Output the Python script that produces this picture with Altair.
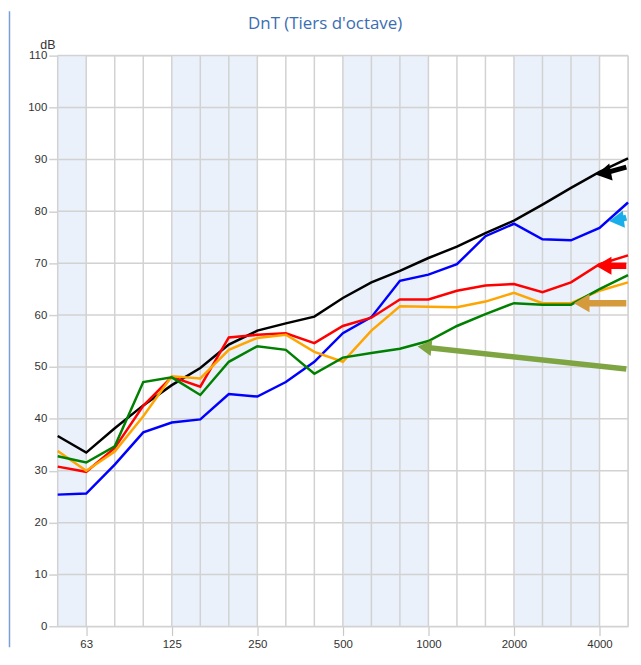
import altair as alt
import pandas as pd

# Third-octave bands (Hz)
bands = ["50", "63", "80", "100", "125", "160", "200", "250", "315", "400", "500",
         "630", "800", "1000", "1250", "1600", "2000", "2500", "3150", "4000", "5000"]
tick_labels = ["63", "125", "250", "500", "1000", "2000", "4000"]
db_ticks = [0, 10, 20, 30, 40, 50, 60, 70, 80, 90, 100, 110]
chart_title = "DnT (Tiers d'octave)"

# DnT values (dB) per series
black = [36.7, 33.5, 38.2, 42.6, 46.5, 49.8, 54.3, 57.0, 58.4, 59.7, 63.3,
         66.3, 68.5, 71.0, 73.2, 75.8, 78.2, 81.3, 84.5, 87.6, 90.2]
blue = [25.4, 25.6, 31.2, 37.4, 39.3, 39.9, 44.8, 44.3, 47.1, 51.0, 56.5,
        59.6, 66.6, 67.8, 69.8, 75.2, 77.6, 74.6, 74.4, 76.8, 81.7]
red = [30.8, 29.8, 34.4, 42.5, 48.1, 46.2, 55.7, 56.2, 56.5, 54.6, 57.9,
       59.5, 63.0, 63.0, 64.7, 65.7, 66.0, 64.4, 66.3, 69.8, 71.5]
orange = [33.8, 30.0, 33.7, 40.5, 48.2, 47.8, 53.3, 55.6, 56.2, 52.9, 51.0,
          57.0, 61.7, 61.6, 61.5, 62.6, 64.3, 62.3, 62.3, 64.7, 66.3]
green = [32.8, 31.6, 34.7, 47.1, 48.0, 44.6, 51.0, 54.0, 53.3, 48.7, 51.8,
         52.7, 53.5, 55.0, 57.9, 60.2, 62.3, 62.0, 62.0, 65.0, 67.7]

series_names = ["noir", "bleu", "rouge", "orange", "vert"]
series_values = [black, blue, red, orange, green]
series_colors = ["#000000", "#0000ff", "#ff0000", "#ffa500", "#008000"]

# shaded octave columns (from band, to band)
shade_from = ["50", "125", "500", "2000"]
shade_to = ["63", "250", "1000", "4000"]

# annotation arrows (band position index, dB)
arrow_colors = ["#000000", "#19aeea", "#ff0000", "#d59a3b", "#7fa543"]
arrow_tip_x = [18.90, 19.35, 18.90, 18.13, 12.62]
arrow_tip_y = [87.3, 78.3, 69.5, 62.3, 53.8]
arrow_tail_x = [19.94, 19.94, 19.94, 19.94, 19.94]
arrow_tail_y = [88.5, 78.8, 69.5, 62.3, 49.6]
arrow_angle = [349, 353, 0, 0, 6]
arrow_width = [5, 6, 6.5, 6.5, 5.5]
arrow_head = [300, 300, 330, 330, 260]

W, H = 573.7, 574.2
xs = alt.Scale(domain=[0, len(bands) - 1], nice=False, zero=False)
ys = alt.Scale(domain=[0, 110], nice=False, zero=False)

label_arr = "[" + ",".join("'" + b + "'" for b in bands) + "]"

rows = []
for name, vals in zip(series_names, series_values):
    for i, v in enumerate(vals):
        rows.append({"serie": name, "i": i, "db": v})
df = pd.DataFrame(rows)

shade_df = pd.DataFrame({"x0": [bands.index(a) for a in shade_from],
                         "x1": [bands.index(b) for b in shade_to]})
vgrid_df = pd.DataFrame({"i": list(range(len(bands)))})
hgrid_df = pd.DataFrame({"db": db_ticks})
arrow_df = pd.DataFrame({"c": arrow_colors, "tx": arrow_tip_x, "ty": arrow_tip_y,
                         "ex": arrow_tail_x, "ey": arrow_tail_y, "a": arrow_angle,
                         "w": arrow_width, "s": arrow_head})
title_df = pd.DataFrame({"t": [chart_title]})

grid_col = "#d2d2d2"

shade = alt.Chart(shade_df).mark_rect(color="#eaf1fa").encode(
    x=alt.X("x0:Q", scale=xs, axis=alt.Axis(
        values=[bands.index(t) for t in tick_labels],
        labelExpr=label_arr + "[datum.value]",
        title=None, grid=False, domain=False, tickSize=9, tickColor="#c8c8c8",
        tickWidth=1.2, labelPadding=3, labelFontSize=11.5, labelColor="#333333",
        labelFont="Liberation Sans", labelFlush=False)),
    x2="x1:Q",
    y=alt.Y("y0:Q", scale=ys, axis=alt.Axis(
        values=db_ticks, title="dB", titleAngle=0, titleX=-18, titleY=-7.5,
        titleAlign="left", titleBaseline="alphabetic", titleFontWeight="normal",
        titleFontSize=12.5, titleColor="#333333", titleFont="Liberation Sans",
        grid=False, domain=False, tickSize=9, tickColor=grid_col, tickWidth=1.5,
        labelPadding=2, labelFontSize=11.5, labelColor="#333333",
        labelFont="Liberation Sans")),
    y2="y1:Q",
).transform_calculate(y0="0", y1="110")

vgrid = alt.Chart(vgrid_df).mark_rule(color=grid_col, strokeWidth=1.5).encode(
    x=alt.X("i:Q", scale=xs), y=alt.datum(0), y2=alt.datum(110))
hgrid = alt.Chart(hgrid_df).mark_rule(color=grid_col, strokeWidth=1.5).encode(
    y=alt.Y("db:Q", scale=ys), x=alt.datum(0), x2=alt.datum(len(bands) - 1))

lines = []
for name, col in zip(series_names, series_colors):
    lines.append(
        alt.Chart(df[df.serie == name]).mark_line(color=col, strokeWidth=2.5).encode(
            x=alt.X("i:Q", scale=xs), y=alt.Y("db:Q", scale=ys)))

shafts = alt.Chart(arrow_df).mark_rule(xOffset=7).encode(
    x=alt.X("tx:Q", scale=xs), y=alt.Y("ty:Q", scale=ys),
    x2="ex:Q", y2="ey:Q",
    color=alt.Color("c:N", scale=None), strokeWidth=alt.StrokeWidth("w:Q", scale=None))
heads = alt.Chart(arrow_df).mark_point(shape="triangle-left", filled=True, opacity=1,
                                       xOffset=7).encode(
    x=alt.X("tx:Q", scale=xs), y=alt.Y("ty:Q", scale=ys),
    color=alt.Color("c:N", scale=None), angle=alt.Angle("a:Q", scale=None),
    size=alt.Size("s:Q", scale=None))

frame = alt.Chart(hgrid_df.head(1)).mark_rule(color="#7a9fd6", strokeWidth=1.5).encode(
    x=alt.value(-48.5), y=alt.value(-44.75), y2=alt.value(H + 21))

title = alt.Chart(title_df).mark_text(
    font="Open Sans", fontSize=17, color="#3b6db3", align="center", baseline="middle"
).encode(text="t:N", x=alt.value(269), y=alt.value(-31.5))

chart = alt.layer(shade, vgrid, hgrid, *lines, shafts, heads, frame, title).properties(
    width=W, height=H, padding=0,
).configure_view(stroke=None).configure(background="white")

chart.save("out.html", embed_options={"renderer": "svg", "actions": False})
